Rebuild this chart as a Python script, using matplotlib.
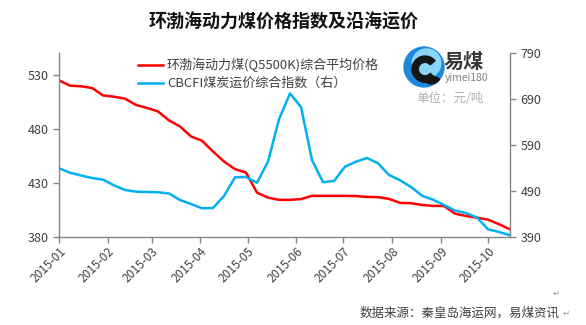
import numpy as np
import matplotlib
matplotlib.use("Agg")
import matplotlib.pyplot as plt
import matplotlib.dates as mdates
from matplotlib.patches import Circle, Wedge

plt.rcParams['font.family'] = ['Noto Sans CJK SC', 'DejaVu Sans']

# ---------- data (weekly) ----------
start = np.datetime64("2015-01-01")
weeks = np.arange(42)
dates = start + weeks * np.timedelta64(7, "D")

bspi = [524.7, 519.8, 519.2, 517.7, 510.8, 509.6, 507.8, 502.0, 499.2, 496.0,
        487.7, 482.1, 472.9, 468.9, 459.0, 449.7, 442.7, 439.5, 421.0, 416.4,
        414.3, 414.3, 415.0, 418.0, 418.0, 418.0, 418.0, 417.8, 417.0, 416.8,
        415.2, 411.5, 411.2, 409.6, 408.7, 408.7, 401.6, 399.4, 397.9, 396.0,
        391.8, 387.1]
cbcfi = [539.3, 529.8, 523.7, 518.2, 514.6, 502.4, 492.2, 488.5, 487.8, 487.2,
         484.6, 470.4, 461.7, 452.4, 453.0, 479.1, 519.8, 520.4, 508.0, 553.7,
         645.9, 702.0, 672.6, 557.4, 509.1, 511.7, 542.8, 553.7, 561.7, 550.2,
         524.8, 513.3, 498.7, 479.8, 471.1, 459.6, 447.6, 442.2, 432.4, 406.7,
         400.9, 393.9]

left_ticks = [380, 430, 480, 530]
right_ticks = [390, 490, 590, 690, 790]

title = "环渤海动力煤价格指数及沿海运价"
label_bspi = "环渤海动力煤(Q5500K)综合平均价格"
label_cbcfi = "CBCFI煤炭运价综合指数（右）"

RED, BLUE = "#FF0000", "#00B0F0"
SPINE, TXT = "#868686", "#404040"

fig = plt.figure(figsize=(5.86, 3.25), dpi=100)
ax = fig.add_axes([0.1007, 0.2708, 0.7696, 0.5662])
ax2 = ax.twinx()

ax.plot(dates, bspi, color=RED, lw=1.8, solid_joinstyle="round")
ax2.plot(dates, cbcfi, color=BLUE, lw=1.8, solid_joinstyle="round")

ax.set_xlim(start, np.datetime64("2015-10-15"))
ax.set_ylim(380, 550)
ax2.set_ylim(390, 790)
ax.set_yticks(left_ticks)
ax2.set_yticks(right_ticks)

ax.xaxis.set_major_locator(mdates.MonthLocator())
ax.xaxis.set_major_formatter(mdates.DateFormatter("%Y-%m"))
for lab in ax.get_xticklabels():
    lab.set_rotation(45)
    lab.set_ha("right")
    lab.set_rotation_mode("anchor")

for a in (ax, ax2):
    a.spines["top"].set_visible(False)
    for s in ("left", "right", "bottom"):
        a.spines[s].set_color(SPINE)
        a.spines[s].set_linewidth(1.0)
    a.tick_params(colors=SPINE, labelcolor=TXT, labelsize=9, length=4, width=1)
ax.spines["right"].set_visible(False)
ax2.spines["left"].set_visible(False)
ax2.spines["bottom"].set_visible(False)
ax.tick_params(axis="x", labelsize=8.5, pad=2)

# legend (placed by hand like the original)
fig.lines.append(plt.Line2D([138 / 586, 163 / 586], [1 - 65 / 325] * 2,
                            color=RED, lw=1.8, transform=fig.transFigure))
fig.lines.append(plt.Line2D([138 / 586, 163 / 586], [1 - 83 / 325] * 2,
                            color=BLUE, lw=1.8, transform=fig.transFigure))
fig.text(167 / 586, 1 - 65 / 325, label_bspi, fontsize=9.4, color=TXT, va="center")
fig.text(167 / 586, 1 - 83 / 325, label_cbcfi, fontsize=9.4, color=TXT, va="center")

fig.text(284 / 586, 1 - 22 / 325, title, fontsize=13, fontweight="bold",
         color="#111111", ha="center", va="center")

# logo
lax = fig.add_axes([403 / 586, 1 - 88 / 325, 42 / 586, 42 / 325])
lax.set_xlim(-1, 1); lax.set_ylim(-1, 1); lax.set_aspect("equal"); lax.axis("off")
lax.add_patch(Circle((0, 0), 0.95, color="#1E88DC"))
lax.add_patch(Circle((0.12, 0.18), 0.68, color="#8AD6F7"))
lax.add_patch(Wedge((0.05, -0.1), 0.62, 40, 320, width=0.3, color="#151515"))
lax.add_patch(Wedge((0.35, -0.35), 0.45, 200, 330, width=0.2, color="#151515"))
fig.text(444 / 586, 1 - 61 / 325, "易煤", fontsize=14.5, fontweight="bold",
         color="#3a3a3a", va="center")
fig.text(445 / 586, 1 - 78 / 325, "yimei180", fontsize=7.5, color="#808080", va="center")
fig.text(450 / 586, 1 - 98 / 325, "单位：元/吨", fontsize=9, color="#b0b0b0",
         ha="center", va="center")

fig.text(560 / 586, 1 - 313 / 325, "数据来源：秦皇岛海运网，易煤资讯", fontsize=9,
         color=TXT, ha="right", va="center")
fig.text(563 / 586, 1 - 313 / 325, "↵", fontsize=6, color="#909090", va="center")
fig.text(553 / 586, 1 - 293 / 325, "↵", fontsize=6, color="#909090", va="center")

fig.savefig("out.png", dpi=100)
